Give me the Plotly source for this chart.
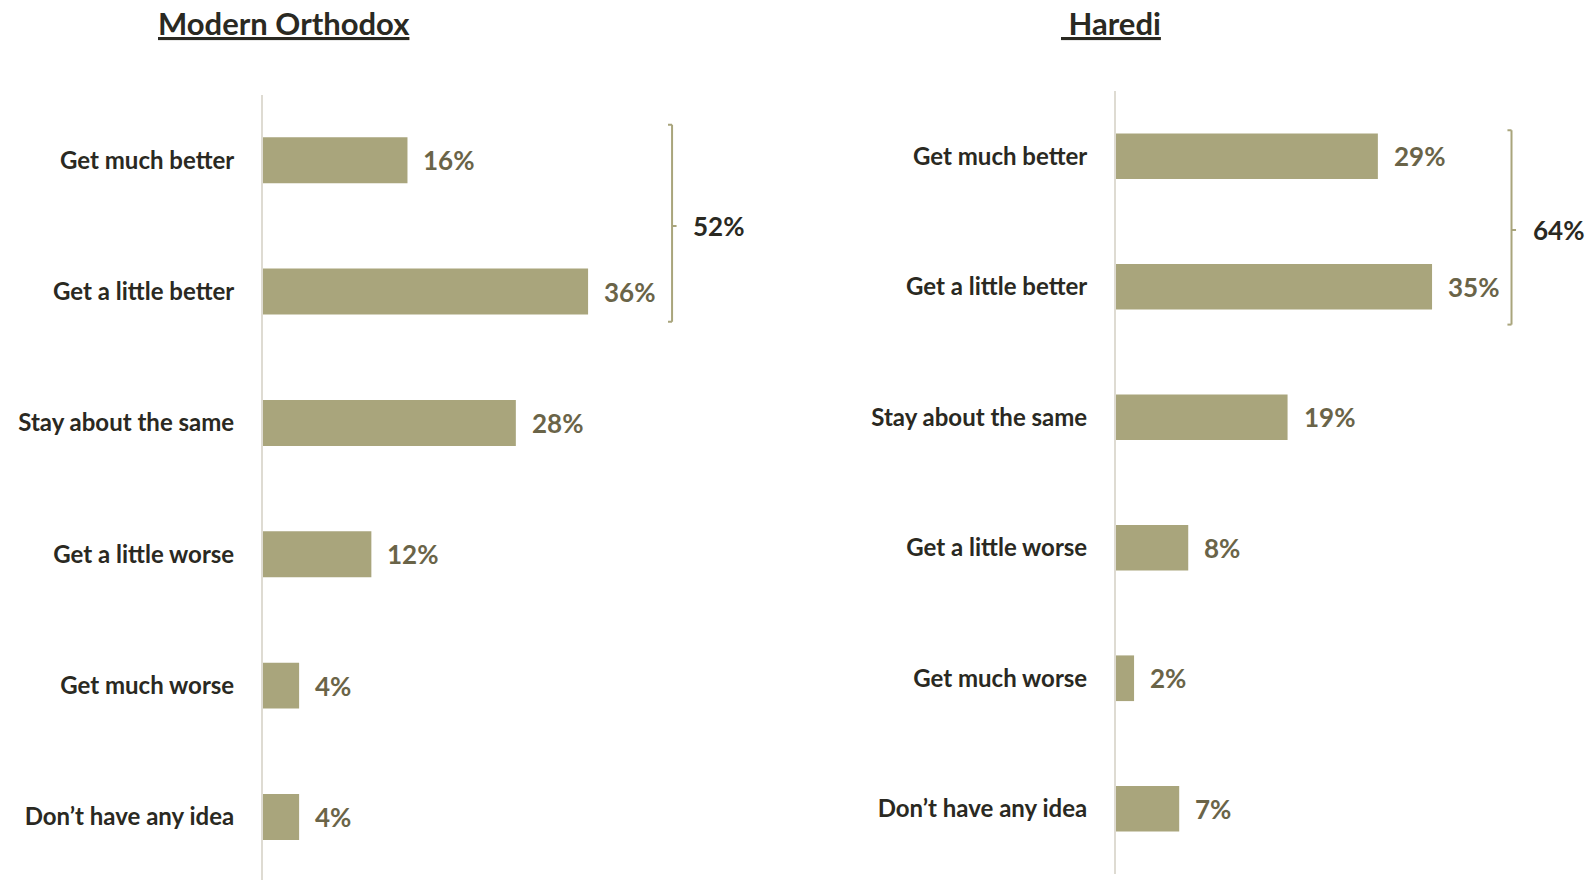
import plotly.graph_objects as go

categories = ["Get much better", "Get a little better", "Stay about the same",
              "Get a little worse", "Get much worse", "Don\u2019t have any idea"]
modern_orthodox = [16, 36, 28, 12, 4, 4]
haredi = [29, 35, 19, 8, 2, 7]
titles = ["Modern Orthodox", "Haredi"]

BAR = "#A9A57C"
VAL = "#6A6448"
DARK = "#2A2922"
AXIS = "#DEDBD2"
FONT = "Lato"

W, H = 1591, 880

fig = go.Figure()

PX = 9.03  # pixels per percent
panels = [
    (modern_orthodox, "x", "y", 263, (94.6, H), [5.48, -0.5], 45.3, (-0.27, 1.23)),
    (haredi, "x2", "y2", 1116, (91, 874), [5.5, -0.5], 43.8, (-0.2, 1.29)),
]

ypos = list(range(len(categories)))

for i, (vals, xa, ya, x0px, (ytop, ybot), yr, bx, (by0, by1)) in enumerate(panels):
    xd = [x0px / W, (x0px + PX * 50) / W]
    yd = [max(0, 1 - ybot / H), 1 - ytop / H]
    fig.add_trace(go.Bar(
        x=vals, y=ypos, orientation="h", xaxis=xa, yaxis=ya,
        marker=dict(color=BAR, line=dict(width=0)), width=0.35,
        hoverinfo="skip", showlegend=False,
    ))
    for v, yy in zip(vals, ypos):
        fig.add_annotation(x=v, y=yy, xref=xa, yref=ya, text=f"<b>{v}%</b>",
                           showarrow=False, xanchor="left", yanchor="middle",
                           xshift=14, font=dict(family=FONT, size=26, color=VAL))
    mid = (by0 + by1) / 2 + 0.02
    lw = 2
    fig.add_shape(type="line", xref=xa, yref=ya, x0=bx, x1=bx, y0=by0, y1=by1,
                  line=dict(color=BAR, width=lw))
    fig.add_shape(type="line", xref=xa, yref=ya, x0=bx - 0.45, x1=bx, y0=by0, y1=by0,
                  line=dict(color=BAR, width=lw))
    fig.add_shape(type="line", xref=xa, yref=ya, x0=bx - 0.45, x1=bx, y0=by1, y1=by1,
                  line=dict(color=BAR, width=lw))
    fig.add_shape(type="line", xref=xa, yref=ya, x0=bx, x1=bx + 0.5, y0=mid, y1=mid,
                  line=dict(color=BAR, width=lw))
    total = vals[0] + vals[1]
    fig.add_annotation(x=bx, y=mid, xref=xa, yref=ya, text=f"<b>{total}%</b>",
                       showarrow=False, xanchor="left", yanchor="middle", xshift=19,
                       font=dict(family=FONT, size=26, color=DARK))

    sfx = "" if i == 0 else "2"
    fig.update_layout(**{
        f"xaxis{sfx}": dict(domain=xd, range=[0, 50], visible=False, fixedrange=True),
        f"yaxis{sfx}": dict(
            domain=yd, range=yr, anchor=xa, tickmode="array", tickvals=ypos,
            ticktext=[f"<b>{c}</b>" for c in categories],
            tickfont=dict(family=FONT, size=24, color=DARK),
            showline=True, linecolor=AXIS, linewidth=2, showgrid=False,
            zeroline=False, ticks="", ticklabelstandoff=22, fixedrange=True,
        ),
    })

fig.add_annotation(x=284 / W, y=1 - 23 / H, xref="paper", yref="paper",
                   text=f"<b><u>{titles[0]}</u></b>", showarrow=False,
                   xanchor="center", yanchor="middle",
                   font=dict(family=FONT, size=31, color=DARK))
fig.add_annotation(x=1111 / W, y=1 - 23 / H, xref="paper", yref="paper",
                   text=f"<b><u> {titles[1]}</u></b>", showarrow=False,
                   xanchor="center", yanchor="middle",
                   font=dict(family=FONT, size=31, color=DARK))

fig.update_layout(
    width=W, height=H,
    margin=dict(l=0, r=0, t=0, b=0),
    paper_bgcolor="white", plot_bgcolor="white",
    bargap=0.65,
)

fig.write_html("out.html", config={"displayModeBar": False},
               post_script="document.body.style.margin='0';")
